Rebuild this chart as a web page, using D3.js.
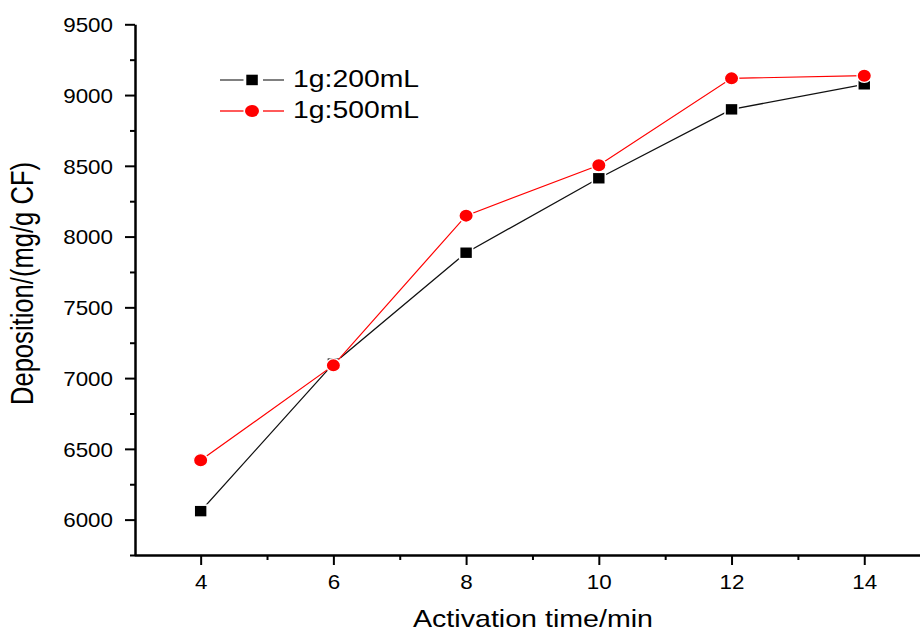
<!DOCTYPE html>
<html>
<head>
<meta charset="utf-8">
<script src="https://cdn.jsdelivr.net/npm/d3@7"></script>
<style>
  html, body { margin: 0; padding: 0; background: #fff; }
  svg { display: block; font-family: "Liberation Sans", Arial, sans-serif; }
</style>
</head>
<body>
<svg id="chart" width="920" height="632"></svg>
<script>
// ---- data ----
const activationTime = [4, 6, 8, 10, 12, 14];
const series200 = [6060, 7102, 7886, 8412, 8899, 9076];
const series500 = [6419, 7090, 8148, 8504, 9118, 9137];
const seriesNames = ["1g:200mL", "1g:500mL"];
const xTickValues = [4, 6, 8, 10, 12, 14];
const xMinorValues = [5, 7, 9, 11, 13];
const yTickValues = [6000, 6500, 7000, 7500, 8000, 8500, 9000, 9500];
const yMinorValues = [5750, 6250, 6750, 7250, 7750, 8250, 8750, 9250];
const xTitle = "Activation time/min";
const yTitle = "Deposition/(mg/g CF)";

const svg = d3.select("#chart");
const x = d3.scaleLinear().domain([3, 14.84]).range([134.3, 920]);
const y = d3.scaleLinear().domain([5750, 9500]).range([555, 24.3]);
const sx = 1.12;

// ---- axes ----
const gx = svg.append("g").attr("transform", "translate(0,555)");
gx.call(d3.axisBottom(x).tickValues(xMinorValues).tickSize(5).tickSizeOuter(0).tickFormat(""));
gx.selectAll(".tick line").attr("stroke-width", 2);
gx.select(".domain").remove();
const gx2 = svg.append("g").attr("transform", "translate(0,555)");
gx2.call(d3.axisBottom(x).tickValues(xTickValues).tickSize(10).tickSizeOuter(0));
gx2.select(".domain").attr("stroke-width", 2.5).attr("stroke", "#000");
gx2.selectAll(".tick line").attr("stroke-width", 2);
gx2.selectAll(".tick text")
  .attr("y", 0).attr("dy", 0)
  .attr("transform", `translate(0,34.3) scale(${sx},1)`)
  .attr("font-size", 20).attr("fill", "#000")
  .attr("font-family", "Liberation Sans, Arial, sans-serif");

const gy = svg.append("g").attr("transform", "translate(135,0)");
gy.call(d3.axisLeft(y).tickValues(yMinorValues).tickSize(5).tickSizeOuter(0).tickFormat(""));
gy.selectAll(".tick line").attr("stroke-width", 2);
gy.select(".domain").remove();
const gy2 = svg.append("g").attr("transform", "translate(135,0)");
gy2.call(d3.axisLeft(y).tickValues(yTickValues).tickSize(10).tickSizeOuter(0).tickFormat(d3.format("d")));
gy2.select(".domain").attr("stroke-width", 2.5).attr("stroke", "#000");
gy2.selectAll(".tick line").attr("stroke-width", 2);
gy2.selectAll(".tick text")
  .attr("x", 0).attr("dy", 0).attr("y", 0)
  .attr("text-anchor", "end")
  .attr("transform", `translate(-22,7.3) scale(${sx},1)`)
  .attr("font-size", 20).attr("fill", "#000")
  .attr("font-family", "Liberation Sans, Arial, sans-serif");

// ---- titles ----
svg.append("text")
  .attr("x", 533).attr("y", 627)
  .attr("text-anchor", "middle")
  .attr("font-size", 24.6)
  .attr("textLength", 240).attr("lengthAdjust", "spacingAndGlyphs")
  .text(xTitle);
svg.append("text")
  .attr("text-anchor", "middle")
  .attr("font-size", 25.6)
  .attr("transform", "translate(32.5,283.5) scale(1.2,1) rotate(-90)")
  .text(yTitle);

// ---- series ----
const line = d3.line().x(d => x(d[0])).y(d => y(d[1]));
const d200 = activationTime.map((t, i) => [t, series200[i]]);
const d500 = activationTime.map((t, i) => [t, series500[i]]);

svg.append("path").datum(d200).attr("d", line)
  .attr("fill", "none").attr("stroke", "#111").attr("stroke-width", 1.3);
svg.selectAll("rect.m200").data(d200).join("rect")
  .attr("class", "m200")
  .attr("x", d => x(d[0]) - 6.5).attr("y", d => y(d[1]) - 6)
  .attr("width", 13).attr("height", 12)
  .attr("fill", "#000").attr("stroke", "#fff").attr("stroke-width", 1.6);

svg.append("path").datum(d500).attr("d", line)
  .attr("fill", "none").attr("stroke", "#ff0000").attr("stroke-width", 1.2);
svg.selectAll("ellipse.m500").data(d500).join("ellipse")
  .attr("class", "m500")
  .attr("cx", d => x(d[0])).attr("cy", d => y(d[1]))
  .attr("rx", 7.2).attr("ry", 6.7)
  .attr("fill", "#ff0000").attr("stroke", "#fff").attr("stroke-width", 1.4);

// ---- legend ----
const legend = svg.append("g");
const legRows = [
  { name: seriesNames[0], y: 80, color: "#808080", lw: 2, marker: "square" },
  { name: seriesNames[1], y: 111, color: "#ff0000", lw: 1.3, marker: "circle" }
];
legRows.forEach(r => {
  legend.append("line").attr("x1", 220).attr("x2", 243.5).attr("y1", r.y).attr("y2", r.y)
    .attr("stroke", r.color).attr("stroke-width", r.lw);
  legend.append("line").attr("x1", 263).attr("x2", 284).attr("y1", r.y).attr("y2", r.y)
    .attr("stroke", r.color).attr("stroke-width", r.lw);
  if (r.marker === "square") {
    legend.append("rect").attr("x", 246.3).attr("y", r.y - 5.3).attr("width", 11.5).attr("height", 10.5)
      .attr("fill", "#000");
  } else {
    legend.append("ellipse").attr("cx", 252).attr("cy", r.y).attr("rx", 7).attr("ry", 6)
      .attr("fill", "#ff0000");
  }
  legend.append("text").attr("x", 293).attr("y", r.y + 7.3)
    .attr("font-size", 23.3)
    .attr("textLength", 126).attr("lengthAdjust", "spacingAndGlyphs")
    .text(r.name);
});
</script>
</body>
</html>
